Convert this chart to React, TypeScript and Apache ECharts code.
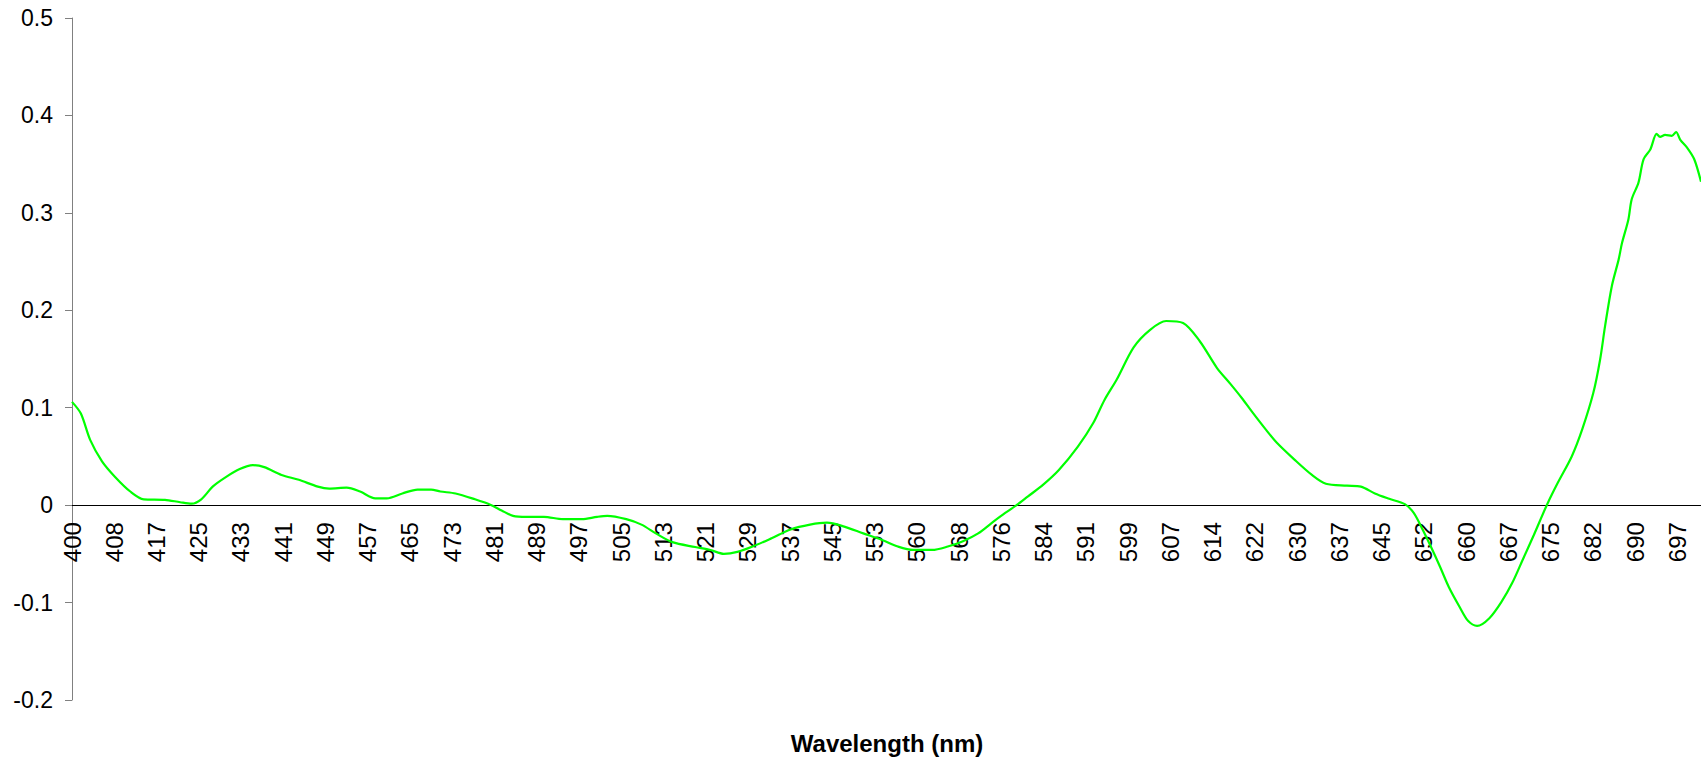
import React, { useEffect, useRef } from "react";
import * as echarts from "echarts";

// Tick labels of the category-like wavelength axis (one every 10 samples)
const tickLabels = [
  "400", "408", "417", "425", "433", "441", "449", "457", "465", "473",
  "481", "489", "497", "505", "513", "521", "529", "537", "545", "553",
  "560", "568", "576", "584", "591", "599", "607", "614", "622", "630",
  "637", "645", "652", "660", "667", "675", "682", "690", "697",
];

// Position of each sampled point, in units of tick-label steps
const xPos = [
  0.0, 0.21, 0.43, 0.71, 1.02, 1.38, 1.7, 2.2, 2.56, 2.83,
  3.06, 3.33, 3.65, 3.97, 4.28, 4.55, 4.96, 5.37, 5.82, 6.09,
  6.5, 6.82, 7.18, 7.45, 7.82, 8.18, 8.5, 8.72, 9.08, 9.54,
  9.9, 10.17, 10.44, 10.76, 11.17, 11.62, 12.07, 12.43, 12.67, 13.12,
  13.48, 13.84, 14.21, 14.75, 15.11, 15.43, 15.75, 16.11, 16.56, 17.01,
  17.47, 17.87, 18.28, 18.73, 19.19, 19.55, 19.91, 20.36, 20.73, 21.09,
  21.45, 21.81, 22.09, 22.36, 22.63, 22.99, 23.36, 23.81, 24.17, 24.44,
  24.73, 25.13, 25.52, 25.9, 26.3, 26.7, 27.1, 27.43, 27.69, 27.93,
  28.27, 28.52, 28.93, 29.35, 29.68, 30.18, 30.51, 30.84, 31.18, 31.55,
  31.76, 31.97, 32.17, 32.38, 32.59, 32.84, 33.05, 33.26, 33.55, 33.84,
  34.09, 34.34, 34.59, 34.92, 35.17, 35.5, 35.75, 36.01, 36.17, 36.29,
  36.45, 36.61, 36.69, 36.84, 36.92, 37.08, 37.2, 37.36, 37.51, 37.59,
  37.71, 37.87, 37.97, 38.07, 38.23, 38.4, 38.56,
];

// Absorbance difference values
const absorbance = [
  0.106, 0.094, 0.067, 0.045, 0.029, 0.014, 0.006, 0.0055, 0.003, 0.0015,
  0.006, 0.019, 0.029, 0.037, 0.041, 0.039, 0.031, 0.026, 0.019, 0.017,
  0.018, 0.014, 0.007, 0.007, 0.012, 0.016, 0.016, 0.014, 0.012, 0.006,
  0.0005, -0.0055, -0.011, -0.012, -0.012, -0.0144, -0.0144, -0.012, -0.011, -0.0144,
  -0.02, -0.0295, -0.038, -0.043, -0.046, -0.05, -0.048, -0.0425, -0.034, -0.025,
  -0.02, -0.018, -0.022, -0.029, -0.036, -0.0425, -0.046, -0.046, -0.0425, -0.037,
  -0.029, -0.017, -0.008, 0.0, 0.009, 0.021, 0.036, 0.06, 0.084, 0.108,
  0.129, 0.162, 0.18, 0.189, 0.187, 0.168, 0.141, 0.124, 0.11, 0.096,
  0.077, 0.064, 0.047, 0.031, 0.022, 0.02, 0.019, 0.012, 0.0065, 0.001,
  -0.008, -0.025, -0.043, -0.063, -0.084, -0.104, -0.119, -0.124, -0.116, -0.099,
  -0.08, -0.056, -0.032, 0.001, 0.023, 0.05, 0.078, 0.115, 0.149, 0.184,
  0.225, 0.252, 0.269, 0.293, 0.314, 0.331, 0.355, 0.365, 0.381, 0.378,
  0.38, 0.379, 0.383, 0.375, 0.367, 0.355, 0.332,
];

const xAxisTitle = "Wavelength (nm)";

const FONT = 'Arial, "Liberation Sans", sans-serif';

const W = 1701;
const H = 760;
const GRID_TOP = 18;
const GRID_BOTTOM = 60;
const Y_MIN = -0.2;
const Y_MAX = 0.5;

export default function App() {
  const ref = useRef<HTMLDivElement>(null);

  useEffect(() => {
    if (!ref.current) return;
    const chart = echarts.init(ref.current, undefined, { renderer: "svg" });
    const data = xPos.map((x, k) => [x, absorbance[k]]);
    const gridH = H - GRID_TOP - GRID_BOTTOM;
    // distance from the grid's bottom edge up to the zero line
    const zeroFromBottom = (gridH * (0 - Y_MIN)) / (Y_MAX - Y_MIN);
    chart.setOption({
      animation: false,
      backgroundColor: "#ffffff",
      textStyle: { fontFamily: FONT },
      grid: { left: 72, right: 0, top: GRID_TOP, bottom: GRID_BOTTOM, containLabel: false },
      xAxis: {
        type: "value",
        min: 0,
        max: 38.56,
        interval: 1,
        position: "bottom",
        offset: -zeroFromBottom,
        axisLine: { show: true, onZero: false, lineStyle: { color: "#000000", width: 1 } },
        axisTick: { show: false },
        splitLine: { show: false },
        axisLabel: {
          rotate: 90,
          margin: 17,
          fontSize: 24,
          color: "#000000",
          fontFamily: FONT,
          showMaxLabel: false,
          formatter: (v: number) => {
            const r = Math.round(v);
            if (Math.abs(v - r) > 1e-6) return "";
            return tickLabels[r] ?? "";
          },
        },
      },
      yAxis: {
        type: "value",
        min: Y_MIN,
        max: Y_MAX,
        interval: 0.1,
        axisLine: { show: true, onZero: false, lineStyle: { color: "#808080", width: 1 } },
        axisTick: { show: true, inside: false, length: 7, lineStyle: { color: "#808080" } },
        splitLine: { show: false },
        axisLabel: {
          margin: 19,
          fontSize: 23,
          color: "#000000",
          fontFamily: FONT,
          formatter: (v: number) => {
            const r = Math.round(v * 10) / 10;
            return r === 0 ? "0" : String(r);
          },
        },
      },
      graphic: [
        {
          type: "text",
          x: 887,
          y: 743,
          style: {
            text: xAxisTitle,
            fontSize: 24,
            fontWeight: "bold",
            fontFamily: FONT,
            fill: "#000000",
            align: "center",
            verticalAlign: "middle",
          },
        },
      ],
      series: [
        {
          type: "line",
          data,
          showSymbol: false,
          smooth: 0.3,
          lineStyle: { color: "#00ff00", width: 2.2 },
          itemStyle: { color: "#00ff00" },
          z: 1,
        },
      ],
    });
    return () => chart.dispose();
  }, []);

  return (
    <div
      ref={ref}
      style={{ position: "absolute", left: 0, top: 0, width: W, height: H, background: "#fff" }}
    />
  );
}
